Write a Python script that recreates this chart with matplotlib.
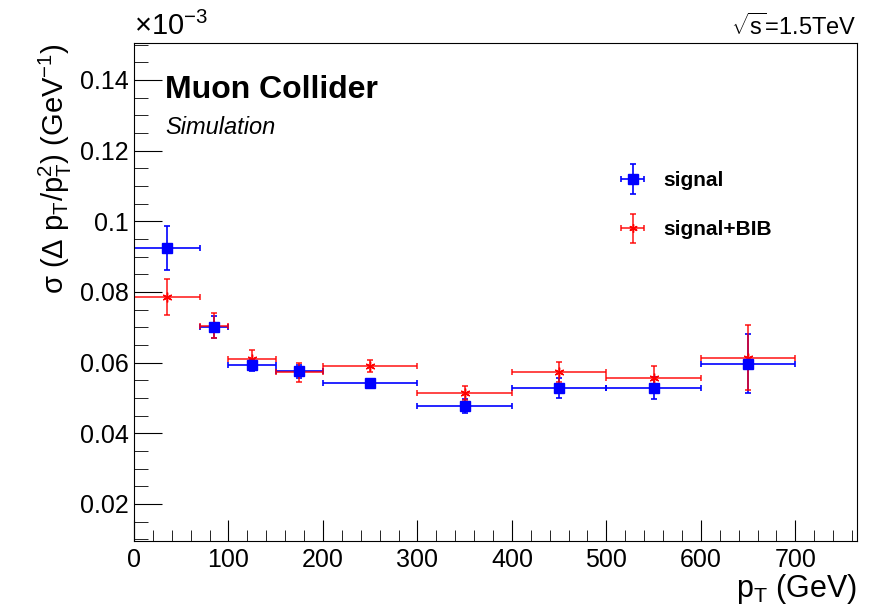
import numpy as np
import matplotlib
matplotlib.use("Agg")
import matplotlib.pyplot as plt
from matplotlib.ticker import MultipleLocator
from matplotlib.lines import Line2D
from matplotlib.legend_handler import HandlerErrorbar
from matplotlib.container import ErrorbarContainer

plt.rcParams['font.family'] = ['Liberation Sans', 'DejaVu Sans']
plt.rcParams['mathtext.fontset'] = 'custom'
plt.rcParams['mathtext.rm'] = 'Liberation Sans'
plt.rcParams['mathtext.it'] = 'Liberation Sans:italic'

# bins in pT (GeV)
bin_lo = [0, 70, 100, 150, 200, 300, 400, 500, 600]
bin_hi = [70, 100, 150, 200, 300, 400, 500, 600, 700]

# resolution values, x1e-3 GeV^-1
signal = [0.0925, 0.0701, 0.0593, 0.0575, 0.0542, 0.0477, 0.0528, 0.0528, 0.0597]
signal_err = [0.0062, 0.0030, 0.0017, 0.0018, 0.0009, 0.0021, 0.0027, 0.0032, 0.0084]
bib = [0.0786, 0.0704, 0.0609, 0.0572, 0.0590, 0.0514, 0.0573, 0.0557, 0.0613]
bib_err = [0.0051, 0.0035, 0.0028, 0.0026, 0.0016, 0.0020, 0.0029, 0.0033, 0.0092]

lo = np.array(bin_lo)
hi = np.array(bin_hi)
x = 0.5 * (lo + hi)
xerr = 0.5 * (hi - lo)

fig = plt.figure(figsize=(8.76, 6.13), dpi=100)
ax = fig.add_axes([0.153, 0.1175, 0.825, 0.8125])

sig_h = ax.errorbar(x, signal, xerr=xerr, yerr=signal_err, fmt='s', color='#0000ff',
                    markersize=7, elinewidth=1.2, capsize=2.5, capthick=1.2)
bib_h = ax.errorbar(x, bib, xerr=xerr, yerr=bib_err, fmt='none', ecolor='#ff0000',
                    elinewidth=1.2, capsize=2.5, capthick=1.2, alpha=0.85)
ax.plot(x, bib, linestyle='none', marker=(6, 2, 0), color='#ff0000', markersize=7)

ax.set_xlim(0, 765)
ax.set_ylim(0.0095, 0.1505)
ax.xaxis.set_major_locator(MultipleLocator(100))
ax.xaxis.set_minor_locator(MultipleLocator(20))
ax.yaxis.set_major_locator(MultipleLocator(0.02))
ax.yaxis.set_minor_locator(MultipleLocator(0.005))
ax.tick_params(axis='both', which='both', direction='in', top=False, right=False,
               labelsize=18)
ax.tick_params(axis='x', which='major', length=15, pad=5)
ax.tick_params(axis='x', which='minor', length=8)
ax.tick_params(axis='y', which='major', length=20, pad=4)
ax.tick_params(axis='y', which='minor', length=10)
ax.set_yticks([0.02, 0.04, 0.06, 0.08, 0.1, 0.12, 0.14])
ax.set_yticklabels(['0.02', '0.04', '0.06', '0.08', '0.1', '0.12', '0.14'])
ax.set_xticks(range(0, 800, 100))
ax.set_xticklabels([str(v) for v in range(0, 800, 100)])

ax.set_xlabel(r'p$_{\mathrm{T}}$ (GeV)', fontsize=22, loc='right', labelpad=0)
ax.set_ylabel('σ (Δ p$_{\\mathrm{T}}$/p$_{\\mathrm{T}}^{2}$) (GeV$^{-1}$)',
              fontsize=21, loc='top', labelpad=4)

fig.text(0.153, 0.933, r'$\times$10$^{-3}$', fontsize=21, ha='left', va='bottom')
fig.text(0.978, 0.935, r'$\sqrt{\mathrm{s}}$=1.5TeV', fontsize=17, ha='right', va='bottom')
ax.text(0.043, 0.905, 'Muon Collider', transform=ax.transAxes, fontsize=23,
        fontweight='bold', va='center')
ax.text(0.043, 0.83, 'Simulation', transform=ax.transAxes, fontsize=17,
        style='italic', va='center')

star = Line2D([], [], linestyle='none', marker=(6, 2, 0), color='#ff0000', markersize=6)
hmap = {ErrorbarContainer: HandlerErrorbar(xerr_size=0.55, yerr_size=0.7)}
leg = ax.legend([sig_h, (bib_h, star)], ['signal', 'signal+BIB'],
                loc='upper left', bbox_to_anchor=(0.635, 0.78), frameon=False,
                prop={'weight': 'bold', 'size': 15}, labelspacing=1.45,
                handlelength=2.0, handletextpad=0.5, handler_map=hmap)

fig.savefig('out.png', dpi=100)
